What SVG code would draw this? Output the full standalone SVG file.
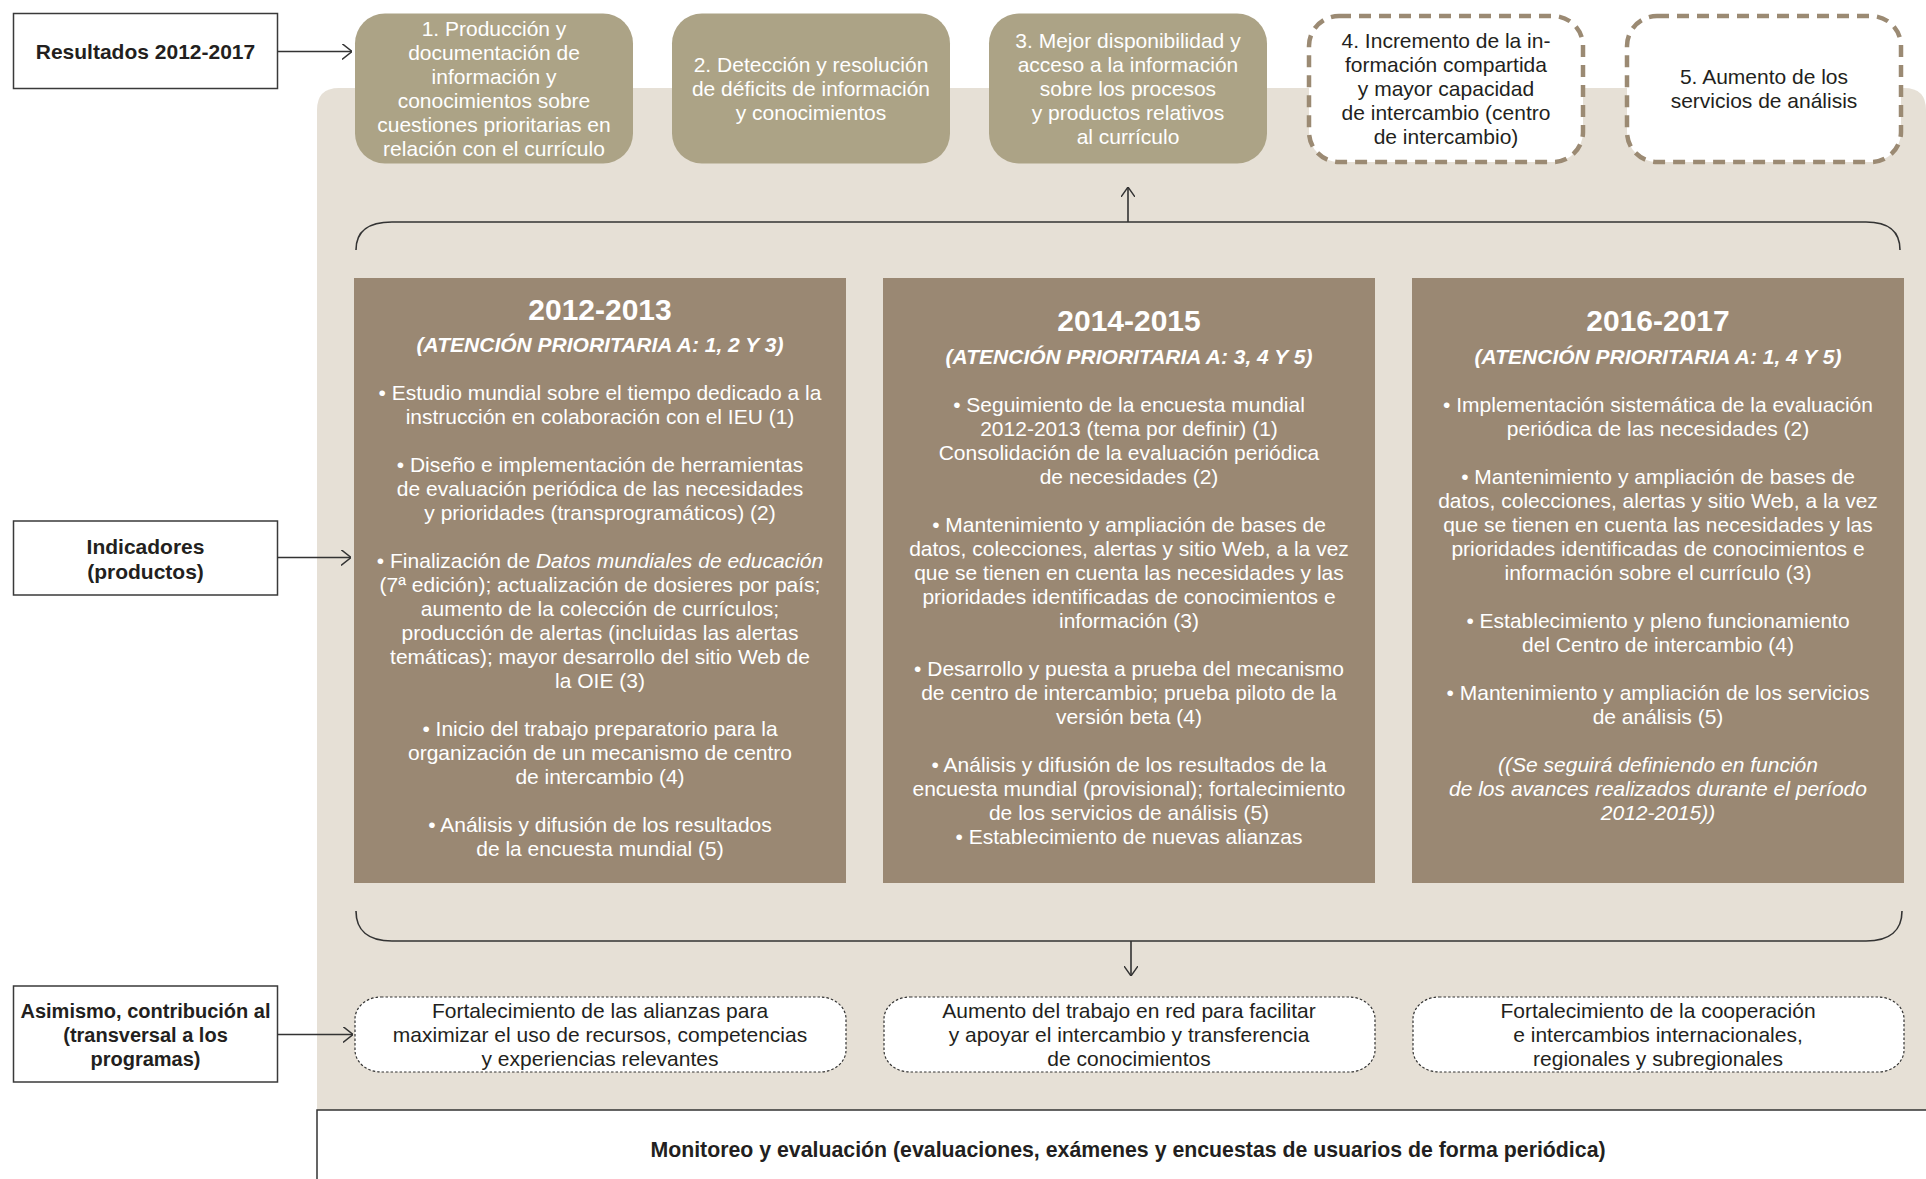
<svg xmlns="http://www.w3.org/2000/svg" width="1926" height="1179" viewBox="0 0 1926 1179">
<defs>
<marker id="open" viewBox="0 0 10 16" refX="10" refY="8" markerWidth="10" markerHeight="16" orient="auto" markerUnits="userSpaceOnUse">
<path d="M0,0 L10,8 L0,16" fill="none" stroke="#333" stroke-width="1.4"/>
</marker>
<marker id="open-sm" viewBox="0 0 10 14" refX="10" refY="7" markerWidth="10" markerHeight="14" orient="auto" markerUnits="userSpaceOnUse">
<path d="M0,0 L10,7 L0,14" fill="none" stroke="#333" stroke-width="1.4"/>
</marker>
</defs>
<style>
text{font-family:"Liberation Sans",Arial,sans-serif;font-size:21px;text-anchor:middle}
.w{fill:#ffffff}
.d{fill:#231f20}
.b{font-weight:bold}
.s20{font-size:20px}
.title{font-size:30px;font-weight:bold;fill:#fff}
.sub{font-weight:bold;font-style:italic;fill:#fff}
.it{font-style:italic}
.lbl{fill:#fff;stroke:#3a3a3a;stroke-width:1.5}
.top{fill:#aca386}
.dash{fill:#fff;stroke:#9b8a73;stroke-width:4.5;stroke-dasharray:12 8}
.col{fill:#9a8873}
.dot{fill:#fff;stroke:#333;stroke-width:1.2;stroke-dasharray:2.5 2}
.conn{fill:none;stroke:#333;stroke-width:1.6}
</style>

<rect width="1926" height="1179" fill="#fff"/>
<path id="background" d="M317,1179 L317,110 Q317,88 339,88 L1904,88 Q1926,88 1926,110 L1926,1179 Z" fill="#e6e0d6"/>

<g id="monitoreo">
<rect x="317" y="1110" width="1640" height="100" fill="#fff" stroke="#333" stroke-width="1.5"/>
<text class="d b" x="1128" y="1157" style="font-size:21.3px">Monitoreo y evaluación (evaluaciones, exámenes y encuestas de usuarios de forma periódica)</text>
</g>

<g id="lbl-resultados">
<rect class="lbl" x="13.5" y="13.5" width="264" height="75"/>
<text class="d b" x="145.5" y="59">Resultados 2012-2017</text>
</g>
<g id="lbl-indicadores">
<rect class="lbl" x="13.5" y="521" width="264" height="74"/>
<text class="d b" x="145.5" y="554">Indicadores</text>
<text class="d b" x="145.5" y="578.5">(productos)</text>
</g>
<g id="lbl-asimismo">
<rect class="lbl" x="13.5" y="986" width="264" height="96"/>
<text class="d b s20" x="145.5" y="1017.5">Asimismo, contribución al</text>
<text class="d b s20" x="145.5" y="1041.5">(transversal a los</text>
<text class="d b s20" x="145.5" y="1065.5">programas)</text>
</g>

<g id="res1">
<rect class="top" x="355" y="13.5" width="278" height="150" rx="30"/>
<text class="w" x="494" y="36">1. Producción y</text>
<text class="w" x="494" y="60">documentación de</text>
<text class="w" x="494" y="84">información y</text>
<text class="w" x="494" y="108">conocimientos sobre</text>
<text class="w" x="494" y="132">cuestiones prioritarias en</text>
<text class="w" x="494" y="156">relación con el currículo</text>
</g>
<g id="res2">
<rect class="top" x="672" y="13.5" width="278" height="150" rx="30"/>
<text class="w" x="811" y="72">2. Detección y resolución</text>
<text class="w" x="811" y="96">de déficits de información</text>
<text class="w" x="811" y="120">y conocimientos</text>
</g>
<g id="res3">
<rect class="top" x="989" y="13.5" width="278" height="150" rx="30"/>
<text class="w" x="1128" y="48">3. Mejor disponibilidad y</text>
<text class="w" x="1128" y="72">acceso a la información</text>
<text class="w" x="1128" y="96">sobre los procesos</text>
<text class="w" x="1128" y="120">y productos relativos</text>
<text class="w" x="1128" y="144">al currículo</text>
</g>
<g id="res4">
<rect class="dash" x="1309" y="16" width="274" height="146" rx="30"/>
<text class="d" x="1446" y="48">4. Incremento de la in-</text>
<text class="d" x="1446" y="72">formación compartida</text>
<text class="d" x="1446" y="96">y mayor capacidad</text>
<text class="d" x="1446" y="120">de intercambio (centro</text>
<text class="d" x="1446" y="144">de intercambio)</text>
</g>
<g id="res5">
<rect class="dash" x="1627" y="16" width="274" height="146" rx="30"/>
<text class="d" x="1764" y="84">5. Aumento de los</text>
<text class="d" x="1764" y="108">servicios de análisis</text>
</g>

<g id="col-2012">
<rect class="col" x="354" y="278" width="492" height="605"/>
<text class="title" x="600" y="319.5">2012-2013</text>
<text class="sub" x="600" y="352">(ATENCIÓN PRIORITARIA A: 1, 2 Y 3)</text>
<text class="w" x="600" y="400">• Estudio mundial sobre el tiempo dedicado a la</text>
<text class="w" x="600" y="424">instrucción en colaboración con el IEU (1)</text>
<text class="w" x="600" y="472">• Diseño e implementación de herramientas</text>
<text class="w" x="600" y="496">de evaluación periódica de las necesidades</text>
<text class="w" x="600" y="520">y prioridades (transprogramáticos) (2)</text>
<text class="w" x="600" y="568">• Finalización de <tspan class="it">Datos mundiales de educación</tspan></text>
<text class="w" x="600" y="592">(7ª edición); actualización de dosieres por país;</text>
<text class="w" x="600" y="616">aumento de la colección de currículos;</text>
<text class="w" x="600" y="640">producción de alertas (incluidas las alertas</text>
<text class="w" x="600" y="664">temáticas); mayor desarrollo del sitio Web de</text>
<text class="w" x="600" y="688">la OIE (3)</text>
<text class="w" x="600" y="736">• Inicio del trabajo preparatorio para la</text>
<text class="w" x="600" y="760">organización de un mecanismo de centro</text>
<text class="w" x="600" y="784">de intercambio (4)</text>
<text class="w" x="600" y="832">• Análisis y difusión de los resultados</text>
<text class="w" x="600" y="856">de la encuesta mundial (5)</text>
</g>

<g id="col-2014">
<rect class="col" x="883" y="278" width="492" height="605"/>
<text class="title" x="1129" y="331">2014-2015</text>
<text class="sub" x="1129" y="363.5">(ATENCIÓN PRIORITARIA A: 3, 4 Y 5)</text>
<text class="w" x="1129" y="411.5">• Seguimiento de la encuesta mundial</text>
<text class="w" x="1129" y="435.5">2012-2013 (tema por definir) (1)</text>
<text class="w" x="1129" y="459.5">Consolidación de la evaluación periódica</text>
<text class="w" x="1129" y="483.5">de necesidades (2)</text>
<text class="w" x="1129" y="531.5">• Mantenimiento y ampliación de bases de</text>
<text class="w" x="1129" y="555.5">datos, colecciones, alertas y sitio Web, a la vez</text>
<text class="w" x="1129" y="579.5">que se tienen en cuenta las necesidades y las</text>
<text class="w" x="1129" y="603.5">prioridades identificadas de conocimientos e</text>
<text class="w" x="1129" y="627.5">información (3)</text>
<text class="w" x="1129" y="675.5">• Desarrollo y puesta a prueba del mecanismo</text>
<text class="w" x="1129" y="699.5">de centro de intercambio; prueba piloto de la</text>
<text class="w" x="1129" y="723.5">versión beta (4)</text>
<text class="w" x="1129" y="771.5">• Análisis y difusión de los resultados de la</text>
<text class="w" x="1129" y="795.5">encuesta mundial (provisional); fortalecimiento</text>
<text class="w" x="1129" y="819.5">de los servicios de análisis (5)</text>
<text class="w" x="1129" y="843.5">• Establecimiento de nuevas alianzas</text>
</g>

<g id="col-2016">
<rect class="col" x="1412" y="278" width="492" height="605"/>
<text class="title" x="1658" y="331">2016-2017</text>
<text class="sub" x="1658" y="363.5">(ATENCIÓN PRIORITARIA A: 1, 4 Y 5)</text>
<text class="w" x="1658" y="411.5">• Implementación sistemática de la evaluación</text>
<text class="w" x="1658" y="435.5">periódica de las necesidades (2)</text>
<text class="w" x="1658" y="483.5">• Mantenimiento y ampliación de bases de</text>
<text class="w" x="1658" y="507.5">datos, colecciones, alertas y sitio Web, a la vez</text>
<text class="w" x="1658" y="531.5">que se tienen en cuenta las necesidades y las</text>
<text class="w" x="1658" y="555.5">prioridades identificadas de conocimientos e</text>
<text class="w" x="1658" y="579.5">información sobre el currículo (3)</text>
<text class="w" x="1658" y="627.5">• Establecimiento y pleno funcionamiento</text>
<text class="w" x="1658" y="651.5">del Centro de intercambio (4)</text>
<text class="w" x="1658" y="699.5">• Mantenimiento y ampliación de los servicios</text>
<text class="w" x="1658" y="723.5">de análisis (5)</text>
<text class="w it" x="1658" y="771.5">((Se seguirá definiendo en función</text>
<text class="w it" x="1658" y="795.5">de los avances realizados durante el período</text>
<text class="w it" x="1658" y="819.5">2012-2015))</text>
</g>

<g id="contrib1">
<rect class="dot" x="355" y="997" width="491" height="75" rx="26" ry="22"/>
<text class="d" x="600" y="1017.5">Fortalecimiento de las alianzas para</text>
<text class="d" x="600" y="1041.5">maximizar el uso de recursos, competencias</text>
<text class="d" x="600" y="1065.5">y experiencias relevantes</text>
</g>
<g id="contrib2">
<rect class="dot" x="884" y="997" width="491" height="75" rx="26" ry="22"/>
<text class="d" x="1129" y="1017.5">Aumento del trabajo en red para facilitar</text>
<text class="d" x="1129" y="1041.5">y apoyar el intercambio y transferencia</text>
<text class="d" x="1129" y="1065.5">de conocimientos</text>
</g>
<g id="contrib3">
<rect class="dot" x="1413" y="997" width="491" height="75" rx="26" ry="22"/>
<text class="d" x="1658" y="1017.5">Fortalecimiento de la cooperación</text>
<text class="d" x="1658" y="1041.5">e intercambios internacionales,</text>
<text class="d" x="1658" y="1065.5">regionales y subregionales</text>
</g>

<g id="connectors">
<path class="conn" d="M277.5,51.5 L352,51.5" marker-end="url(#open)"/>
<path class="conn" d="M277.5,557.5 L351,557.5" marker-end="url(#open)"/>
<path class="conn" d="M277.5,1034.5 L353,1034.5" marker-end="url(#open)"/>
<path class="conn" d="M356,250 C356,232 368,222 392,222 L1866,222 C1890,222 1900,232 1900,250"/>
<path class="conn" d="M1128,222 L1128,187" marker-end="url(#open-sm)"/>
<path class="conn" d="M356,911 C356,930 368,941 392,941 L1866,941 C1890,941 1902,930 1902,911"/>
<path class="conn" d="M1131,941 L1131,976" marker-end="url(#open-sm)"/>
</g>
</svg>
